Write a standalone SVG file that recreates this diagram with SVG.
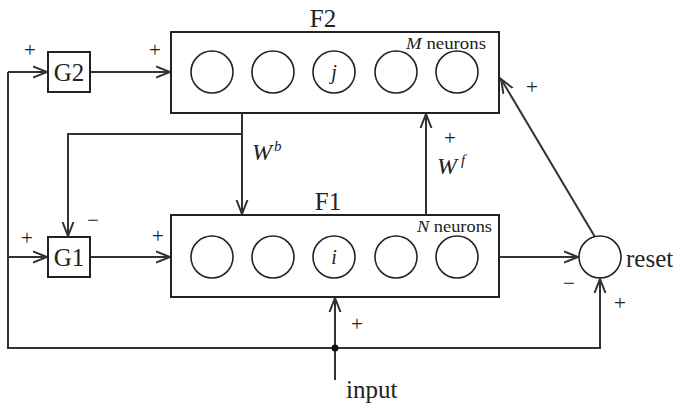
<svg xmlns="http://www.w3.org/2000/svg" width="677" height="407" viewBox="0 0 677 407">
<style>
.box{fill:#fff;stroke:#222;stroke-width:2}
.neu{fill:none;stroke:#222;stroke-width:1.6}
.ln{fill:none;stroke:#333;stroke-width:2}
.t{font-family:"Liberation Serif",serif;fill:#222}
.lab{font-size:25px}
.pm{font-size:21px}
.sm{font-size:17px}
.it{font-style:italic}
</style>
<defs>
<marker id="ar" viewBox="-14 -7 16 14" markerWidth="16" markerHeight="14" refX="0" refY="0" orient="auto" markerUnits="userSpaceOnUse">
<path d="M-14,-5.5 L0,0 L-14,5.5" fill="none" stroke="#333" stroke-width="2"/>
</marker>
</defs>
<g id="connectors">
<polyline class="ln" points="8,72 8,348 600,348 600,279" marker-end="url(#ar)"/>
<line class="ln" x1="8" y1="72" x2="47" y2="72" marker-end="url(#ar)"/>
<line class="ln" x1="8" y1="257" x2="47" y2="257" marker-end="url(#ar)"/>
<line class="ln" x1="90" y1="72" x2="170" y2="72" marker-end="url(#ar)"/>
<line class="ln" x1="90" y1="257" x2="170" y2="257" marker-end="url(#ar)"/>
<line class="ln" x1="242" y1="113" x2="242" y2="214" marker-end="url(#ar)"/>
<polyline class="ln" points="242,134 68,134 68,236" marker-end="url(#ar)"/>
<line class="ln" x1="426" y1="215" x2="426" y2="114" marker-end="url(#ar)"/>
<line class="ln" x1="499" y1="257" x2="578" y2="257" marker-end="url(#ar)"/>
<line class="ln" x1="595" y1="237" x2="501" y2="79" marker-end="url(#ar)"/>
<line class="ln" x1="335" y1="380" x2="335" y2="298" marker-end="url(#ar)"/>
<circle cx="335" cy="348" r="3.5" fill="#111"/>
</g>
<g id="G2">
<rect class="box" x="48" y="52" width="42" height="40"/>
<text class="t lab" x="69" y="81" text-anchor="middle">G2</text>
</g>
<g id="G1">
<rect class="box" x="48" y="237" width="42" height="40"/>
<text class="t lab" x="69" y="266" text-anchor="middle">G1</text>
</g>
<g id="F2">
<rect class="box" x="171" y="32" width="328" height="81"/>
<text class="t lab" x="323" y="27" text-anchor="middle">F2</text>
<text class="t sm" x="406" y="49" textLength="80" lengthAdjust="spacingAndGlyphs"><tspan class="it">M</tspan> neurons</text>
<circle class="neu" cx="212" cy="72" r="21"/>
<circle class="neu" cx="273" cy="72" r="21"/>
<circle class="neu" cx="334" cy="72" r="21"/>
<circle class="neu" cx="396" cy="72" r="21"/>
<circle class="neu" cx="457" cy="72" r="21"/>
<text class="t it" font-size="20" x="334" y="79" text-anchor="middle">j</text>
</g>
<g id="F1">
<rect class="box" x="171" y="215" width="328" height="82"/>
<text class="t lab" x="328" y="210" text-anchor="middle">F1</text>
<text class="t sm" x="417" y="232" textLength="75" lengthAdjust="spacingAndGlyphs"><tspan class="it">N</tspan> neurons</text>
<circle class="neu" cx="212" cy="257" r="21"/>
<circle class="neu" cx="273" cy="257" r="21"/>
<circle class="neu" cx="334" cy="257" r="21"/>
<circle class="neu" cx="396" cy="257" r="21"/>
<circle class="neu" cx="457" cy="257" r="21"/>
<text class="t it" font-size="20" x="334" y="264" text-anchor="middle">i</text>
</g>
<g id="reset">
<circle class="neu" cx="600" cy="257" r="21"/>
<text class="t" font-size="25" x="626" y="267">reset</text>
</g>
<g id="labels">
<text class="t pm" x="30" y="57" text-anchor="middle">+</text>
<text class="t pm" x="155" y="57" text-anchor="middle">+</text>
<text class="t pm" x="27" y="245" text-anchor="middle">+</text>
<text class="t pm" x="158" y="243" text-anchor="middle">+</text>
<text class="t pm" x="93" y="227" text-anchor="middle">−</text>
<text class="t it" font-size="24" x="252" y="160">W<tspan font-size="15" dx="2" dy="-9">b</tspan></text>
<text class="t pm" x="450" y="145" text-anchor="middle">+</text>
<text class="t it" font-size="24" x="437" y="174">W<tspan font-size="15" dx="4" dy="-9">f</tspan></text>
<text class="t pm" x="532" y="94" text-anchor="middle">+</text>
<text class="t pm" x="569" y="290" text-anchor="middle">−</text>
<text class="t pm" x="620" y="310" text-anchor="middle">+</text>
<text class="t pm" x="357" y="331" text-anchor="middle">+</text>
<text class="t" font-size="25" x="346" y="398">input</text>
</g>
</svg>
